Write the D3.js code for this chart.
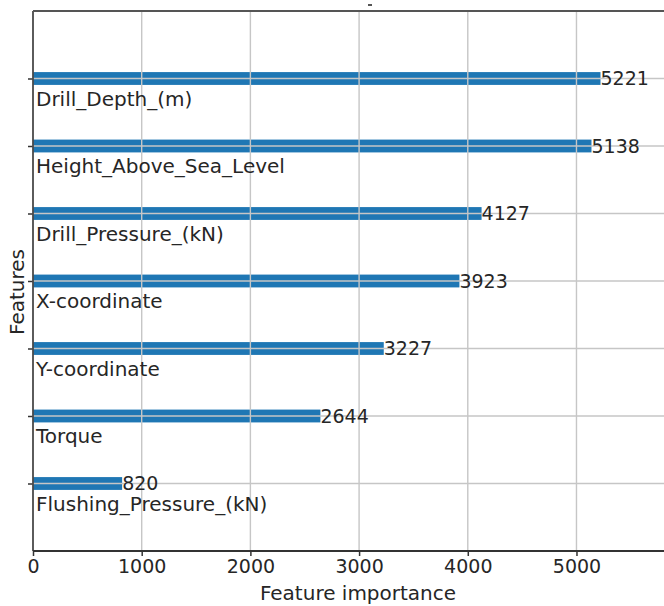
<!DOCTYPE html>
<html>
<head>
<meta charset="utf-8">
<script src="https://cdn.jsdelivr.net/npm/d3@7"></script>
<style>
  html, body { margin: 0; padding: 0; background: #fff; }
  svg { display: block; font-family: "DejaVu Sans", sans-serif; }
</style>
</head>
<body>
<svg id="chart" width="664" height="606"></svg>
<script>
// Feature importance (top to bottom)
const features = [
  "Drill_Depth_(m)",
  "Height_Above_Sea_Level",
  "Drill_Pressure_(kN)",
  "X-coordinate",
  "Y-coordinate",
  "Torque",
  "Flushing_Pressure_(kN)"
];
const importance = [5221, 5138, 4127, 3923, 3227, 2644, 820];
const xTicks = [0, 1000, 2000, 3000, 4000, 5000];

const svg = d3.select("#chart");
const plotLeft = 33, plotTop = 11, plotBottom = 551, plotRight = 683;
const n = features.length;

const x = d3.scaleLinear().domain([0, 5980]).range([plotLeft, plotRight]);
// bars sit at integer positions 0..n-1, bottom to top, with one unit of padding
const y = d3.scaleLinear().domain([-1, n]).range([plotBottom, plotTop]);
const pos = i => n - 1 - i;

const data = features.map((f, i) => ({ name: f, value: importance[i], p: pos(i) }));
const fs = 19, fsText = 20;

// bars
svg.append("g").selectAll("rect").data(data).join("rect")
  .attr("x", x(0))
  .attr("y", d => y(d.p + 0.095))
  .attr("width", d => x(d.value) - x(0))
  .attr("height", d => y(d.p - 0.095) - y(d.p + 0.095))
  .attr("fill", "#1f77b4");

// grid drawn over the bars
const grid = svg.append("g").attr("stroke", "#c6c6c6").attr("stroke-width", 1.4);
grid.selectAll("line.v").data(xTicks.slice(1)).join("line")
  .attr("class", "v")
  .attr("x1", d => x(d)).attr("x2", d => x(d))
  .attr("y1", plotTop).attr("y2", plotBottom);
grid.selectAll("line.h").data(data).join("line")
  .attr("class", "h")
  .attr("x1", plotLeft).attr("x2", plotRight)
  .attr("y1", d => y(d.p)).attr("y2", d => y(d.p));

// x axis
const xAxis = d3.axisBottom(x).tickValues(xTicks).tickSize(5).tickPadding(4)
  .tickFormat(d3.format("d"));
const gx = svg.append("g").attr("transform", `translate(0,${plotBottom})`).call(xAxis);
gx.select(".domain").remove();
gx.selectAll(".tick line").attr("stroke", "#333").attr("stroke-width", 1.5);
gx.selectAll(".tick text").attr("font-size", fs).attr("fill", "#262626")
  .attr("font-family", "DejaVu Sans");

// y axis ticks (labels are drawn inside the plot)
const yAxis = d3.axisLeft(y).tickValues(data.map(d => d.p)).tickSize(5).tickFormat("");
const gy = svg.append("g").attr("transform", `translate(${plotLeft},0)`).call(yAxis);
gy.select(".domain").remove();
gy.selectAll(".tick line").attr("stroke", "#333").attr("stroke-width", 1.5);

// frame
const frame = svg.append("g").attr("stroke", "#4a4a4a").attr("stroke-width", 1.8).attr("fill", "none");
frame.append("line").attr("x1", plotLeft).attr("x2", plotLeft).attr("y1", plotTop).attr("y2", plotBottom);
frame.append("line").attr("x1", plotLeft).attr("x2", plotRight).attr("y1", plotTop).attr("y2", plotTop).attr("stroke", "#555");
frame.append("line").attr("x1", plotLeft).attr("x2", plotRight).attr("y1", plotBottom).attr("y2", plotBottom).attr("stroke", "#333");

// value labels at bar ends
svg.append("g").selectAll("text").data(data).join("text")
  .attr("x", d => x(d.value))
  .attr("y", d => y(d.p) + 6.5)
  .attr("font-size", fs)
  .attr("fill", "#262626")
  .text(d => d.value);

// feature names below each bar
svg.append("g").selectAll("text").data(data).join("text")
  .attr("x", plotLeft + 3)
  .attr("y", d => y(d.p) + 27)
  .attr("font-size", fsText)
  .attr("fill", "#262626")
  .text(d => d.name);

// axis titles
svg.append("text")
  .attr("x", 358).attr("y", 600)
  .attr("text-anchor", "middle")
  .attr("font-size", fsText).attr("fill", "#262626")
  .text("Feature importance");
svg.append("text")
  .attr("transform", "translate(24,292) rotate(-90)")
  .attr("text-anchor", "middle")
  .attr("font-size", fsText).attr("fill", "#262626")
  .text("Features");

// clipped title remnant
svg.append("rect").attr("x", 368).attr("y", 4).attr("width", 4).attr("height", 2).attr("fill", "#555");
</script>
</body>
</html>
